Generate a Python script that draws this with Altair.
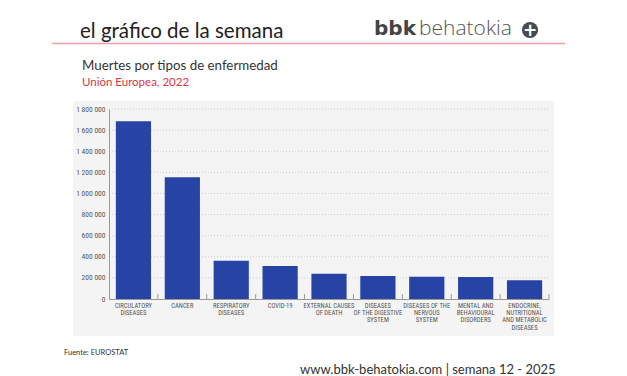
import altair as alt
import pandas as pd

categories = [
    "CIRCULATORY|DISEASES",
    "CANCER",
    "RESPIRATORY|DISEASES",
    "COVID-19",
    "EXTERNAL CAUSES|OF DEATH",
    "DISEASES|OF THE DIGESTIVE|SYSTEM",
    "DISEASES OF THE|NERVOUS|SYSTEM",
    "MENTAL AND|BEHAVIOURAL|DISORDERS",
    "ENDOCRINE,|NUTRITIONAL|AND METABOLIC|DISEASES",
]
deaths = [1685000, 1153000, 363000, 313000, 240000, 218000, 211000, 208000, 177000]
y_ticks = [0, 200000, 400000, 600000, 800000, 1000000, 1200000, 1400000, 1600000, 1800000]

df = pd.DataFrame({"cat": categories, "deaths": deaths})
grid_df = pd.DataFrame({"v": y_ticks[1:]})

W, H = 440, 190
LEFT, TOP = 109, 109
COND = "Roboto Condensed, Roboto, sans-serif"
MAIN = "Lato, Open Sans, sans-serif"

xscale = alt.Scale(paddingInner=0.28, paddingOuter=0.14)
yscale = alt.Scale(domain=[0, 1800000])

x_axis = alt.Axis(labelExpr="split(datum.label, '|')", labelAngle=0,
                  labelFont=COND, labelFontSize=6.6, labelColor="#555555",
                  labelLineHeight=7.4, labelPadding=3, ticks=False,
                  labelOverlap=False, title=None,
                  domainColor="#9a9a9a", labelBaseline="top", zindex=1)
y_axis = alt.Axis(values=y_ticks, labelExpr="replace(format(datum.value, ','), /,/g, ' ')",
                  labelFont=COND, labelFontSize=7.5, labelColor="#555555",
                  labelOverlap=False, title=None,
                  ticks=False, labelPadding=4, domainColor="#9a9a9a",
                  grid=False, zindex=1)

# background panel
panel = alt.Chart(pd.DataFrame({"a": [0]})).mark_rect(color="#f4f4f4").encode(
    x=alt.value(73 - LEFT), x2=alt.value(554 - LEFT),
    y=alt.value(101 - TOP), y2=alt.value(336 - TOP))

grid = alt.Chart(grid_df).mark_rule(color="#cfcfcf", strokeDash=[1, 2]).encode(
    y=alt.Y("v:Q", scale=yscale, axis=y_axis), x=alt.value(0), x2=alt.value(W))

bars = alt.Chart(df).mark_bar(color="#2743a5").encode(
    x=alt.X("cat:N", sort=None, scale=xscale, axis=x_axis),
    y=alt.Y("deaths:Q", scale=yscale, axis=y_axis),
)

ticks = alt.Chart(df).mark_rule(color="#9a9a9a", xOffset=W / 9 / 2).encode(
    x=alt.X("cat:N", sort=None, scale=xscale, axis=x_axis),
    y=alt.value(H - 5), y2=alt.value(H))

def txt(s, x, y, size, color, font=MAIN, weight="normal", align="left", baseline="alphabetic"):
    return alt.Chart(pd.DataFrame({"t": [s]})).mark_text(
        fontSize=size, color=color, font=font, fontWeight=weight,
        align=align, baseline=baseline).encode(
        text="t:N", x=alt.value(x - LEFT), y=alt.value(y - TOP))

header = txt("el gráfico de la semana", 80, 38, 20.5, "#222222")
line = alt.Chart(pd.DataFrame({"a": [0]})).mark_rule(color="#f0a0a4", strokeWidth=1.3).encode(
    x=alt.value(52 - LEFT), x2=alt.value(565 - LEFT), y=alt.value(43.5 - TOP))
bbk = txt("bbk", 374, 35, 20, "#444444", font="DejaVu Sans", weight="bold")
beha = txt("behatokia", 419, 35, 21, "#555555", font="Open Sans", weight=300)
circ = alt.Chart(pd.DataFrame({"a": [0]})).mark_circle(color="#474c52", opacity=1, size=260).encode(
    x=alt.value(530 - LEFT), y=alt.value(30 - TOP))
plus = txt("+", 530, 30.5, 17, "#ffffff", font="DejaVu Sans", weight="bold", align="center", baseline="middle")
sub1 = txt("Muertes por tipos de enfermedad", 82, 70, 13.3, "#333333")
sub2 = txt("Unión Europea, 2022", 82, 86, 11.5, "#e0333f")
src = txt("Fuente: EUROSTAT", 64, 355, 7.5, "#333333")
web = txt("www.bbk-behatokia.com | semana 12 - 2025", 300, 374, 13, "#333333")

chart = alt.layer(panel, grid, bars, ticks, header, line, bbk, beha, circ, plus, sub1, sub2, src, web).properties(
    width=W, height=H,
    padding={"left": LEFT, "top": TOP, "right": 627 - LEFT - W, "bottom": 376 - TOP - H},
    autosize=alt.AutoSizeParams(type="none"),
    background="white",
).configure_view(stroke=None)

chart.save("out.html", embed_options={"renderer": "svg", "actions": False})
